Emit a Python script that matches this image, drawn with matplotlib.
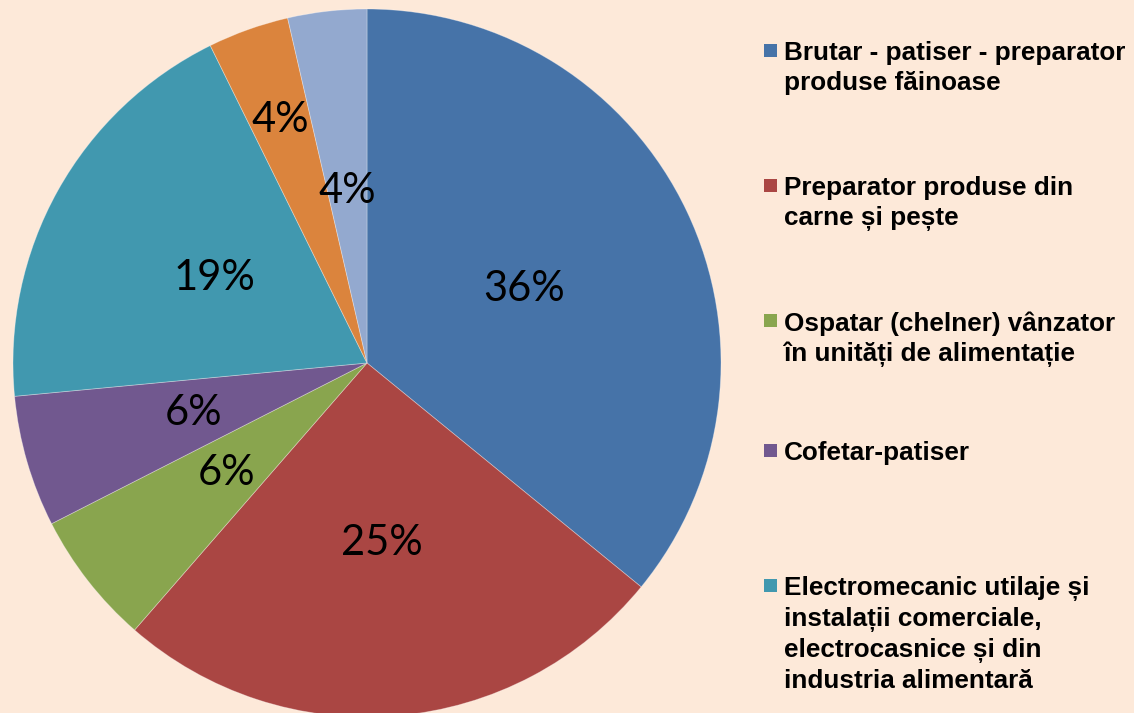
import numpy as np
import matplotlib
matplotlib.use("Agg")
import matplotlib.pyplot as plt
from matplotlib.patches import Rectangle

# --- Data ---
categories = [
    "Brutar - patiser - preparator\nproduse făinoase",
    "Preparator produse din\ncarne și pește",
    "Ospatar (chelner) vânzator\nîn unități de alimentație",
    "Cofetar-patiser",
    "Electromecanic utilaje și\ninstalații comerciale,\nelectrocasnice și din\nindustria alimentară",
    "Other 1",
    "Other 2",
]
shares = [35.9, 25.5, 6.1, 6.0, 19.2, 3.7, 3.6]
pct_labels = ["36%", "25%", "6%", "6%", "19%", "4%", "4%"]
colors = ["#4673A8", "#AA4643", "#89A54E", "#71588F", "#4198AF", "#DB843D", "#93A9CF"]
legend_count = 5  # only the first five entries fit in the reference legend

BG = "#FDE9D9"
W, H = 1134, 713

fig = plt.figure(figsize=(W / 100, H / 100), dpi=100)
fig.patch.set_facecolor(BG)

# pie centre (367, 363) px, radius 354 px
cx, cy, R = 367, 363, 354
ax = fig.add_axes([(cx - R) / W, (H - cy - R) / H, 2 * R / W, 2 * R / H])
ax.set_facecolor(BG)

wedges, _ = ax.pie(shares, colors=colors, startangle=90, counterclock=False,
                   radius=1.0, wedgeprops=dict(linewidth=0.6, edgecolor=(1, 1, 1, 0.35)))
ax.set_xlim(-1, 1)
ax.set_ylim(-1, 1)
ax.set_aspect("auto")
ax.axis("off")

# percentage labels, placed at half the radius (small orange slice pushed out)
label_r = [0.49, 0.51, 0.505, 0.51, 0.495, 0.73, 0.49]
for w, lab, r in zip(wedges, pct_labels, label_r):
    ang = np.deg2rad((w.theta1 + w.theta2) / 2)
    ax.text(r * np.cos(ang), r * np.sin(ang), lab, ha="center", va="center",
            fontsize=30, family="Lato", color="black")

# --- Legend drawn by hand to keep Excel's fixed row spacing ---
row_top = [43, 178, 313, 443, 578]  # cap top of first line, px from top
for i in range(legend_count):
    top = row_top[i]
    fig.patches.append(Rectangle((764 / W, (H - top - 14) / H), 13 / W, 13 / H,
                                 transform=fig.transFigure, facecolor=colors[i],
                                 edgecolor="none"))
    fig.text(784 / W, (H - top + 2) / H, categories[i], ha="left", va="top",
             fontsize=18.8, fontweight="bold", family="Liberation Sans",
             linespacing=1.32, color="black")

fig.savefig("out.png", dpi=100, facecolor=BG)
